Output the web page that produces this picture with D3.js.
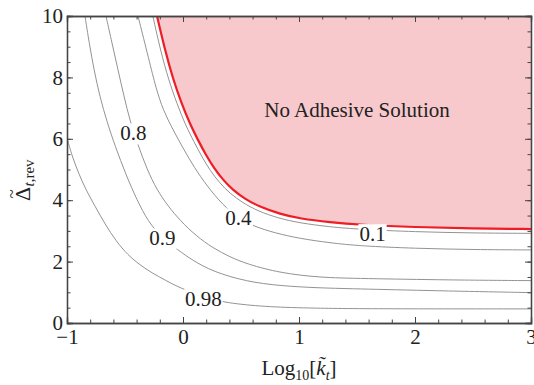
<!DOCTYPE html>
<html>
<head>
<meta charset="utf-8">
<script src="https://cdn.jsdelivr.net/npm/d3@7"></script>
<style>
  body { margin: 0; background: #fff; }
  text { font-family: "Liberation Serif", "Times New Roman", serif; fill: #222; }
</style>
</head>
<body>
<div id="chart"></div>
<script>
// contour lines: [log10 k, delta]
const redBoundary = [[-0.224,10],[-0.155,8.89],[-0.086,7.95],[-0.017,7.20],[0.060,6.48],[0.129,5.96],
  [0.198,5.47],[0.267,5.05],[0.345,4.66],[0.431,4.33],[0.534,4.04],[0.664,3.78],[0.836,3.55],
  [1.009,3.40],[1.267,3.28],[1.526,3.20],[2.0,3.12],[2.5,3.08],[3.0,3.06]];

const contour01 = [[-0.26,10],[-0.193,8.86],[-0.123,7.91],[-0.053,7.15],[0.025,6.42],[0.095,5.90],
  [0.165,5.40],[0.235,4.96],[0.316,4.56],[0.405,4.22],[0.513,3.92],[0.648,3.64],[0.826,3.41],
  [1.003,3.26],[1.264,3.13],[1.523,3.05],[2.0,2.97],[2.5,2.93],[3.0,2.92]];

const contour04 = [[-0.388,10],[-0.293,8.57],[-0.233,7.65],[-0.172,6.94],[-0.086,6.29],[0.009,5.64],
  [0.095,5.08],[0.207,4.46],[0.345,3.84],[0.474,3.42],[0.603,3.16],[0.793,2.93],[1.009,2.75],
  [1.267,2.61],[1.526,2.51],[2.0,2.43],[2.5,2.39],[3.0,2.38]];

const contour08 = [[-0.664,10],[-0.612,9.12],[-0.560,8.24],[-0.509,7.39],[-0.457,6.58],[-0.388,5.80],
  [-0.310,5.00],[-0.224,4.33],[-0.129,3.81],[-0.026,3.34],[0.112,2.84],[0.259,2.44],[0.405,2.15],
  [0.552,1.92],[0.836,1.63],[1.181,1.48],[1.526,1.45],[2.302,1.40],[3.0,1.38]];

const contour09 = [[-0.845,10],[-0.810,9.15],[-0.767,8.24],[-0.716,7.36],[-0.655,6.55],[-0.586,5.77],
  [-0.491,4.82],[-0.397,4.01],[-0.302,3.31],[-0.181,2.77],[-0.043,2.38],[0.078,2.05],[0.259,1.67],
  [0.549,1.35],[0.836,1.21],[1.181,1.14],[1.526,1.11],[2.302,1.04],[3.0,0.99]];

const contour098 = [[-1.0,6.03],[-0.957,5.44],[-0.897,4.85],[-0.836,4.33],[-0.759,3.81],[-0.672,3.22],
  [-0.578,2.67],[-0.474,2.21],[-0.371,1.89],[-0.267,1.63],[-0.155,1.40],[-0.026,1.14],[0.181,0.85],
  [0.345,0.67],[0.664,0.54],[1.009,0.49],[1.526,0.46],[3.0,0.46]];

const contourLevels = ["0.98", "0.9", "0.8", "0.4", "0.1"];
const contourLabelX = [0.175, -0.177, -0.428, 0.477, 1.634];
const contourLabelY = [0.78, 2.76, 6.18, 3.41, 2.90];

const xTicks = [-1, 0, 1, 2, 3];
const yTicks = [0, 2, 4, 6, 8, 10];
const regionLabel = "No Adhesive Solution";

var width = 534, height = 385;
var margin = {top: 16, right: 3, bottom: 62, left: 67};
var w = width - margin.left - margin.right;
var h = height - margin.top - margin.bottom;

var root = d3.select("#chart").append("svg")
  .attr("width", width)
  .attr("height", height);

var svg = root.append("g")
  .attr("transform", `translate(${margin.left},${margin.top})`);

var x = d3.scaleLinear().domain([-1, 3]).range([0, w]);
var y = d3.scaleLinear().domain([0, 10]).range([h, 0]);

svg.append("clipPath").attr("id", "plotClip")
  .append("rect").attr("width", w).attr("height", h);

var plot = svg.append("g").attr("clip-path", "url(#plotClip)");

// pink region above the boundary
var area = d3.area()
  .x(d => x(d[0]))
  .y0(y(10))
  .y1(d => y(d[1]))
  .curve(d3.curveBasis);

plot.append("path")
  .datum(redBoundary.concat([[3.05, 3.06]]))
  .attr("d", area)
  .attr("fill", "#f8c9cc");

var line = d3.line()
  .x(d => x(d[0]))
  .y(d => y(d[1]))
  .curve(d3.curveBasis);

[contour098, contour09, contour08, contour04, contour01].forEach(c => {
  plot.append("path")
    .datum(c)
    .attr("d", line)
    .attr("fill", "none")
    .attr("stroke", "#939393")
    .attr("stroke-width", 1);
});

plot.append("path")
  .datum(redBoundary)
  .attr("d", line)
  .attr("fill", "none")
  .attr("stroke", "#ee1c25")
  .attr("stroke-width", 2.2);

// contour labels with white boxes
contourLevels.forEach((lab, i) => {
  var g = svg.append("g");
  var t = g.append("text")
    .attr("x", x(contourLabelX[i]))
    .attr("y", y(contourLabelY[i]))
    .attr("dy", "0.34em")
    .attr("text-anchor", "middle")
    .style("font-size", "21px")
    .text(lab);
  var bb = t.node().getBBox();
  g.insert("rect", "text")
    .attr("x", bb.x - 1)
    .attr("y", bb.y + 2)
    .attr("width", bb.width + 2)
    .attr("height", bb.height - 3)
    .attr("fill", "#fff");
});

svg.append("text")
  .attr("x", x(1.5))
  .attr("y", y(6.72))
  .attr("text-anchor", "middle")
  .style("font-size", "21px")
  .text(regionLabel);

// frame with inward ticks
function minorVals(step, lo, hi) {
  return d3.range(lo, hi + 1e-9, step).map(v => +v.toFixed(3));
}
var xMinor = minorVals(0.2, -1, 3);
var yMinor = minorVals(0.5, 0, 10);

function fmt(d) { return d < 0 ? "\u2212" + (-d) : d; }

var axes = [
  {ax: d3.axisBottom(x), t: `translate(0,${h})`, major: xTicks, minor: xMinor, pad: 6},
  {ax: d3.axisTop(x), t: "translate(0,0)", major: xTicks, minor: xMinor, pad: null},
  {ax: d3.axisLeft(y), t: "translate(0,0)", major: yTicks, minor: yMinor, pad: 4},
  {ax: d3.axisRight(y), t: `translate(${w},0)`, major: yTicks, minor: yMinor, pad: null}
];

axes.forEach(a => {
  svg.append("g")
    .attr("class", "axis")
    .attr("transform", a.t)
    .call(a.ax.tickValues(a.minor).tickSize(-3.5).tickFormat(""));
  svg.append("g")
    .attr("class", "axis")
    .attr("transform", a.t)
    .call(a.ax.tickValues(a.major).tickSize(-6).tickPadding(a.pad || 0)
      .tickFormat(a.pad ? fmt : ""));
});

svg.selectAll(".axis path").attr("stroke", "#444").attr("stroke-width", 1.3);
svg.selectAll(".axis line").attr("stroke", "#444").attr("stroke-width", 1);
svg.selectAll(".axis").attr("font-family", null);
svg.selectAll(".axis text")
  .style("font-size", "21px")
  .attr("fill", "#222");

// x axis title
var xt = svg.append("text")
  .attr("x", x(1))
  .attr("y", h + 52)
  .attr("text-anchor", "middle")
  .style("font-size", "21px");
xt.append("tspan").text("Log");
xt.append("tspan").attr("dy", 5).style("font-size", "14px").text("10");
xt.append("tspan").attr("dy", -5).text("[");
xt.append("tspan").style("font-style", "italic").text("k\u0303");
xt.append("tspan").attr("dy", 5).style("font-size", "14px").style("font-style", "italic").text("t");
xt.append("tspan").attr("dy", -5).text("]");

// y axis title, rotated
var yg = root.append("g").attr("transform", "translate(30,201) rotate(-90)");
yg.append("text")
  .attr("x", 0).attr("y", 0)
  .style("font-size", "22px")
  .text("\u0394");
yg.append("text")
  .attr("x", 7).attr("y", -13)
  .attr("text-anchor", "middle")
  .style("font-size", "17px")
  .text("~");
var ys = yg.append("text")
  .attr("x", 14.5).attr("y", 4)
  .style("font-size", "15px");
ys.append("tspan").style("font-style", "italic").text("t");
ys.append("tspan").text(",rev");
</script>
</body>
</html>
